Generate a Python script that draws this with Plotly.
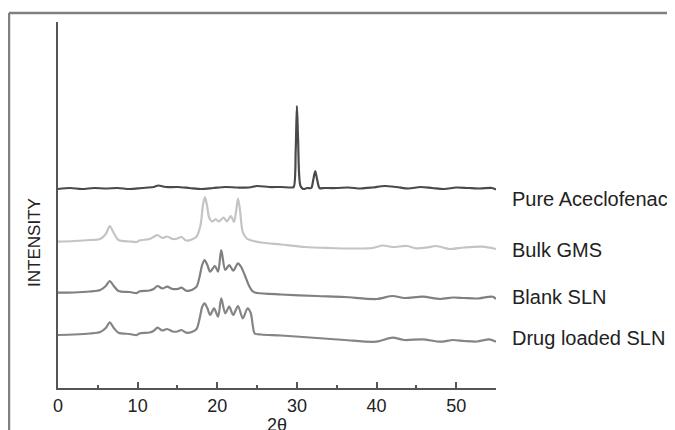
import plotly.graph_objects as go

# 2-theta positions and intensities (arbitrary units, stacked offsets)
x_ace = [0, 1.5, 3, 4.5, 6, 7.5, 9, 10.5, 12, 12.6,
         13.5, 15, 16.5, 18, 19.5, 21, 22.5, 24, 25, 26.5,
         28, 29.3, 29.6, 29.85, 30.0, 30.15, 30.45, 30.8, 31.3, 31.8,
         32.05, 32.3, 32.55, 32.85, 33.5, 35, 36.5, 38, 39.5, 41,
         42.5, 44, 45.5, 47, 48.5, 50, 51.5, 53, 54.5, 55]
y_ace = [199, 200, 199, 200, 199.5, 200, 199, 200, 201, 202.5,
         201, 201, 200, 199, 200, 201, 200.5, 200.5, 202, 201,
         201, 200.5, 201, 238, 282, 248, 202, 199, 200, 200,
         208, 217, 208, 200, 200, 200, 200.5, 199.5, 200.5, 202,
         201, 199.5, 201, 200, 199, 200.5, 200, 199.5, 200, 198.5]

x_gms = [0, 2, 4, 5.3, 6.0, 6.5, 7.0, 7.6, 9, 9.9,
         10.2, 11.5, 12.0, 12.5, 13.1, 13.7, 14.4, 15.0, 15.5, 16.1,
         16.8, 17.4, 17.9, 18.2, 18.45, 18.7, 19.0, 19.4, 19.8, 20.2,
         20.8, 21.2, 21.7, 22.1, 22.35, 22.6, 22.85, 23.2, 23.7, 24.3,
         25.5, 28, 31, 34, 37, 39.5, 40.8, 42, 43.8, 45,
         46.3, 47.5, 49.2, 51, 53.3, 55]
y_gms = [146.3, 147, 148, 149, 154, 162, 155, 148, 146.5, 146,
         147.5, 149, 151, 153, 150, 151.5, 149, 149.5, 151, 147.5,
         148.5, 151.5, 163, 183, 191, 183, 170, 166.5, 169, 166.5,
         170.5, 166.5, 172, 166, 176, 189.5, 178, 156, 149.5, 147.5,
         145.5, 143.5, 141, 140, 139.5, 140, 142.5, 141, 142, 139.7,
         140.5, 142, 139, 140.5, 141.3, 139]

x_blank = [0, 2, 4, 5.3, 6.0, 6.5, 7.0, 7.6, 9, 9.9,
           10.2, 11.5, 12.0, 12.5, 13.1, 13.7, 14.4, 15.0, 15.5, 16.1,
           16.8, 17.4, 17.8, 18.1, 18.4, 18.75, 19.1, 19.7, 20.1, 20.5,
           21.0, 21.5, 22.0, 22.6, 23.0, 23.5, 24.0, 24.5, 25, 28,
           32.5, 36, 40, 42, 43.5, 45.8, 48, 49.6, 51, 52.6,
           54.6, 55]
y_blank = [95.3, 95.5, 96.5, 98, 102, 107, 102, 97, 96, 95,
           96.5, 97.5, 99, 102, 99.5, 101.3, 99, 99, 100.3, 97.3,
           98, 101.3, 112, 123, 128, 123, 116.3, 122, 116.3, 138,
           118, 123, 117.3, 124.7, 121, 112, 102, 96.3, 95, 93.5,
           92, 91, 89, 92, 90, 91.3, 89, 90.5, 90, 89.5,
           91.3, 89]

x_drug = [0, 2, 4, 5.3, 6.0, 6.5, 7.0, 7.6, 9, 9.9,
          10.2, 11.5, 12.0, 12.5, 13.1, 13.7, 14.4, 15.0, 15.5, 16.1,
          16.8, 17.4, 17.8, 18.1, 18.4, 18.75, 19.1, 19.6, 20.1, 20.5,
          21.0, 21.5, 22.0, 22.6, 23.2, 23.8, 24.2, 24.45, 24.7, 25.5,
          28, 32.5, 36, 40, 42, 43.5, 45.8, 48, 49.6, 51,
          52.6, 54.2, 55]
y_drug = [53, 53.5, 54.5, 56, 60, 65.7, 60, 55.3, 54, 53,
          54.5, 55.5, 57, 60.3, 57.5, 59, 56.5, 56.5, 58, 55.3,
          56, 59, 70, 81, 84.7, 80, 73, 79.7, 71.3, 89.7,
          74.7, 81.3, 73, 82, 69.7, 79.7, 75, 63, 54.5, 53.5,
          52.5, 50, 48, 46.3, 50.3, 48, 48.7, 46.3, 48, 47,
          46.5, 48.7, 46.3]

series_names = ["Pure Aceclofenac", "Bulk GMS", "Blank SLN", "Drug loaded SLN"]
label_y = [189.5, 138, 91, 50]
x_ticks = [0, 10, 20, 30, 40, 50]

series = [(x_ace, y_ace, "#4a4a4a"), (x_gms, y_gms, "#c4c4c4"),
          (x_blank, y_blank, "#808080"), (x_drug, y_drug, "#858585")]

fig = go.Figure()
for (xs, ys, col), name in zip(series, series_names):
    fig.add_trace(go.Scatter(x=xs, y=ys, mode="lines", name=name,
                             line=dict(color=col, width=2.2, shape="spline", smoothing=0.8),
                             showlegend=False, hoverinfo="skip"))

for name, ly in zip(series_names, label_y):
    fig.add_annotation(x=1.032, xref="paper", y=ly, yref="y", text=name,
                       showarrow=False, xanchor="left", yanchor="middle",
                       font=dict(family="Liberation Sans, Arial", size=20, color="#222222"))

fig.add_annotation(x=-0.055, xref="paper", y=146, yref="y", text="INTENSITY",
                   textangle=-90, showarrow=False, xanchor="center", yanchor="middle",
                   font=dict(family="Liberation Sans, Arial", size=17, color="#222222"))
fig.add_annotation(x=0.5, xref="paper", y=-0.068, yref="paper", text="2θ",
                   showarrow=False, xanchor="center", yanchor="top",
                   font=dict(family="Liberation Sans, Arial", size=18, color="#222222"))

# frame lines (top and left)
fig.add_shape(type="line", xref="paper", yref="paper", x0=-0.1119, x1=1.45, y0=1.0246, y1=1.0246,
              line=dict(color="#808080", width=2.5))
fig.add_shape(type="line", xref="paper", yref="paper", x0=-0.1119, x1=-0.1119, y0=1.0246, y1=-0.2,
              line=dict(color="#808080", width=2.5))

# page has an 8px body margin, so margins are offset by 8px
fig.update_layout(
    width=675, height=430,
    margin=dict(l=50, r=187, t=14, b=50),
    plot_bgcolor="white", paper_bgcolor="white",
    font=dict(family="Liberation Sans, Arial", color="#222222"),
)
fig.update_xaxes(range=[0, 55], tickvals=x_ticks, ticks="inside", ticklen=6, tickwidth=1.5,
                 tickcolor="#555555", showline=True, linecolor="#555555", linewidth=2,
                 showgrid=False, zeroline=False, tickfont=dict(size=18, color="#222222"),
                 minor=dict(ticks="inside", ticklen=3, dtick=5, tickcolor="#555555", tickwidth=1.5))
fig.update_yaxes(range=[0, 366], showline=True, linecolor="#555555", linewidth=2,
                 showgrid=False, zeroline=False, showticklabels=False, ticks="")

fig.write_html("out.html")
